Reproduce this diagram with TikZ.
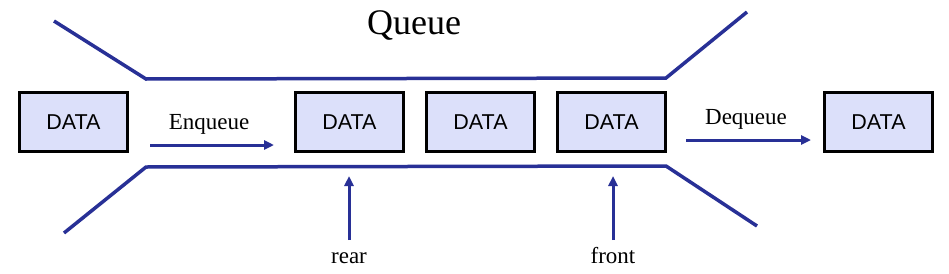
\documentclass[tikz,border=0pt]{standalone}
\usepackage{fontspec}
\setmainfont{Liberation Serif}
\newfontfamily\boxfont{Liberation Sans}
\usetikzlibrary{arrows.meta}
\definecolor{pipeblue}{RGB}{40,48,150}
\definecolor{boxfill}{RGB}{220,224,250}
\begin{document}
\begin{tikzpicture}[x=1pt,y=-1pt,
  databox/.style={draw=black,line width=3.2pt,fill=boxfill,minimum width=108pt,minimum height=59pt,inner sep=0pt,font=\boxfont\fontsize{21.5}{24}\selectfont},
  pipe/.style={draw=pipeblue,line width=3.5pt},
  flow/.style={draw=pipeblue,line width=3pt,-{Triangle[length=10pt,width=9pt]}},
  lbl/.style={font=\fontsize{23}{27}\selectfont,anchor=base,inner sep=0pt}]
\useasboundingbox (0,0) rectangle (949,273);
% pipe
\coordinate (t0) at (54,21); \coordinate (t1) at (146,79);
\coordinate (t2) at (666,78); \coordinate (t3) at (747,12);
\coordinate (b0) at (64,233); \coordinate (b1) at (146,167);
\coordinate (b2) at (666,166); \coordinate (b3) at (757,226);
\draw[pipe] (t0) -- (t1) -- (t2) -- (t3);
\draw[pipe] (b0) -- (b1) -- (b2) -- (b3);
% boxes
\node[databox] (d1) at (73.5,122) {DATA};
\node[databox] (d2) at (349.5,122) {DATA};
\node[databox] (d3) at (480.5,122) {DATA};
\node[databox] (d4) at (611.5,122) {DATA};
\node[databox] (d5) at (878.5,122) {DATA};
% title
\node[lbl,font=\fontsize{36}{40}\selectfont] (title) at (414,34) {Queue};
% enqueue / dequeue
\coordinate (e0) at (150,145); \coordinate (e1) at (274,145);
\draw[flow] (e0) -- (e1);
\node[lbl] (enq) at (209,129) {Enqueue};
\coordinate (q0) at (686,140); \coordinate (q1) at (811,140);
\draw[flow] (q0) -- (q1);
\node[lbl] (deq) at (746,124) {Dequeue};
% rear / front
\coordinate (r0) at (349,240); \coordinate (r1) at (349,176);
\draw[flow] (r0) -- (r1);
\node[lbl] (rear) at (349,263) {rear};
\coordinate (f0) at (613,240); \coordinate (f1) at (613,176);
\draw[flow] (f0) -- (f1);
\node[lbl] (front) at (613,263) {front};
\end{tikzpicture}
\end{document}
